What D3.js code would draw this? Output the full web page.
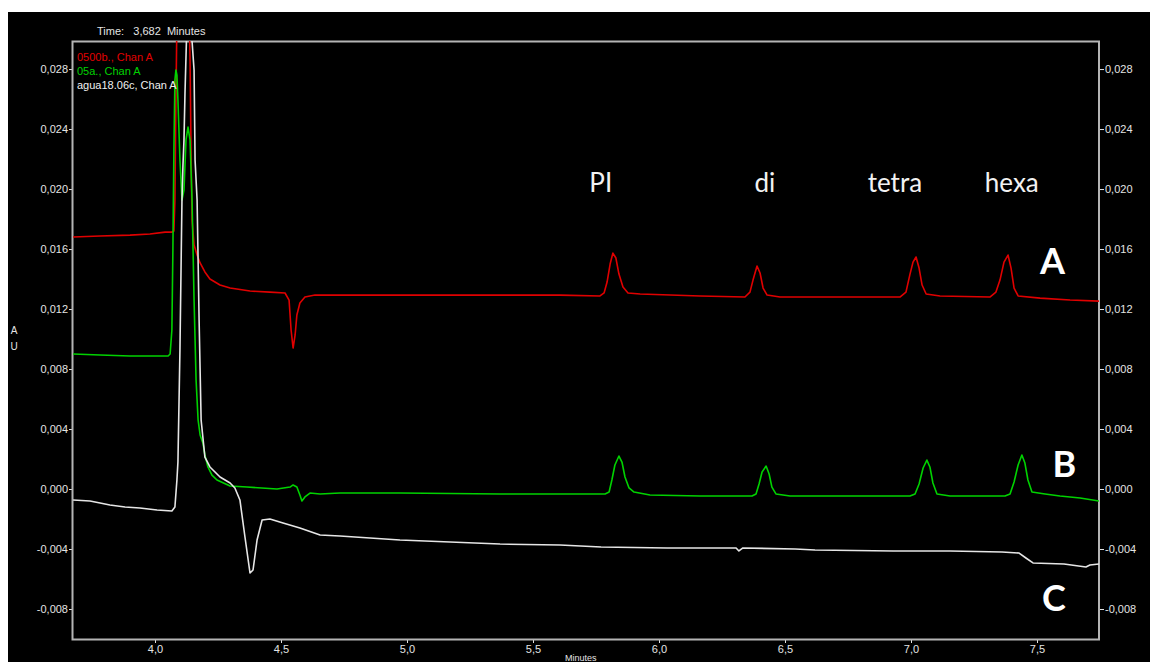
<!DOCTYPE html>
<html>
<head>
<meta charset="utf-8">
<script src="https://cdn.jsdelivr.net/npm/d3@7/dist/d3.min.js"></script>
<style>
  html, body { margin: 0; padding: 0; background: #ffffff; }
  svg { display: block; }
</style>
</head>
<body>
<svg id="chart" width="1150" height="662"></svg>
<script>
// Chromatogram traces (time in minutes, absorbance in AU)
const seriesNames = ["0500b., Chan A", "05a., Chan A", "agua18.06c, Chan A"];
const seriesColors = ["#e00000", "#00d200", "#e6e6e6"];

const timeA = [3.675, 3.782, 3.901, 3.980, 4.040, 4.067, 4.075, 4.079, 4.083, 4.087, 4.095, 4.111, 4.127, 4.135, 4.139, 4.143, 4.147, 4.155, 4.167, 4.179, 4.198, 4.218, 4.258, 4.298, 4.377, 4.456, 4.516, 4.532, 4.540, 4.548, 4.556, 4.563, 4.575, 4.595, 4.635, 4.972, 5.369, 5.607, 5.766, 5.782, 5.794, 5.806, 5.817, 5.829, 5.841, 5.857, 5.877, 5.925, 6.163, 6.341, 6.361, 6.373, 6.389, 6.401, 6.413, 6.429, 6.480, 6.758, 6.956, 6.980, 6.996, 7.008, 7.020, 7.032, 7.044, 7.060, 7.115, 7.313, 7.337, 7.353, 7.369, 7.385, 7.397, 7.409, 7.425, 7.512, 7.631, 7.746];
const valueA = [0.01680, 0.01687, 0.01693, 0.01700, 0.01713, 0.01713, 0.01720, 0.01927, 0.02593, 0.03127, 0.03460, 0.03660, 0.03527, 0.03260, 0.02860, 0.02260, 0.01793, 0.01627, 0.01560, 0.01507, 0.01447, 0.01400, 0.01360, 0.01340, 0.01320, 0.01313, 0.01307, 0.01260, 0.01060, 0.00940, 0.01027, 0.01160, 0.01240, 0.01280, 0.01293, 0.01293, 0.01293, 0.01293, 0.01287, 0.01307, 0.01380, 0.01500, 0.01573, 0.01540, 0.01433, 0.01347, 0.01307, 0.01300, 0.01287, 0.01280, 0.01313, 0.01393, 0.01487, 0.01440, 0.01340, 0.01293, 0.01280, 0.01280, 0.01280, 0.01313, 0.01433, 0.01513, 0.01547, 0.01473, 0.01360, 0.01300, 0.01287, 0.01280, 0.01313, 0.01393, 0.01513, 0.01560, 0.01473, 0.01340, 0.01287, 0.01273, 0.01260, 0.01253];

const timeB = [3.675, 3.782, 3.901, 4.020, 4.052, 4.060, 4.067, 4.071, 4.075, 4.079, 4.083, 4.087, 4.091, 4.099, 4.107, 4.115, 4.123, 4.131, 4.139, 4.147, 4.155, 4.163, 4.171, 4.179, 4.190, 4.198, 4.210, 4.226, 4.246, 4.298, 4.365, 4.484, 4.536, 4.548, 4.563, 4.575, 4.583, 4.595, 4.615, 4.655, 4.734, 4.972, 5.369, 5.607, 5.786, 5.802, 5.813, 5.825, 5.841, 5.853, 5.865, 5.881, 5.901, 5.964, 6.163, 6.369, 6.385, 6.397, 6.409, 6.425, 6.437, 6.448, 6.464, 6.520, 6.758, 6.996, 7.016, 7.032, 7.048, 7.063, 7.075, 7.087, 7.103, 7.155, 7.373, 7.393, 7.409, 7.425, 7.440, 7.452, 7.464, 7.480, 7.532, 7.591, 7.671, 7.746];
const valueB = [0.00900, 0.00893, 0.00887, 0.00887, 0.00887, 0.00900, 0.01060, 0.01593, 0.02260, 0.02727, 0.02793, 0.02760, 0.02593, 0.02193, 0.01927, 0.01993, 0.02327, 0.02413, 0.02327, 0.01927, 0.01260, 0.00727, 0.00460, 0.00360, 0.00307, 0.00227, 0.00147, 0.00093, 0.00060, 0.00020, 0.00013, 0.00000, 0.00013, 0.00027, 0.00013, -0.00040, -0.00080, -0.00053, -0.00027, -0.00033, -0.00027, -0.00027, -0.00033, -0.00033, -0.00033, -0.00020, 0.00060, 0.00160, 0.00220, 0.00180, 0.00080, 0.00007, -0.00020, -0.00040, -0.00047, -0.00047, -0.00033, 0.00033, 0.00113, 0.00153, 0.00100, 0.00013, -0.00033, -0.00047, -0.00047, -0.00047, -0.00033, 0.00033, 0.00140, 0.00193, 0.00147, 0.00040, -0.00033, -0.00047, -0.00047, -0.00033, 0.00047, 0.00160, 0.00227, 0.00173, 0.00060, -0.00020, -0.00033, -0.00047, -0.00060, -0.00080];

const timeC = [3.675, 3.742, 3.782, 3.821, 3.881, 3.940, 4.008, 4.067, 4.079, 4.087, 4.091, 4.099, 4.107, 4.111, 4.115, 4.119, 4.127, 4.135, 4.143, 4.147, 4.155, 4.159, 4.167, 4.175, 4.183, 4.198, 4.218, 4.258, 4.298, 4.317, 4.337, 4.357, 4.377, 4.389, 4.405, 4.425, 4.456, 4.508, 4.575, 4.655, 4.734, 4.972, 5.369, 5.607, 5.770, 6.032, 6.306, 6.317, 6.333, 6.540, 6.619, 6.929, 7.155, 7.361, 7.429, 7.456, 7.484, 7.607, 7.694, 7.710, 7.746];
const valueC = [-0.00073, -0.00080, -0.00093, -0.00107, -0.00120, -0.00127, -0.00140, -0.00147, -0.00120, 0.00060, 0.00180, 0.00927, 0.01927, 0.02160, 0.02327, 0.02640, 0.03127, 0.03393, 0.03260, 0.02987, 0.02793, 0.02193, 0.01927, 0.01127, 0.00460, 0.00213, 0.00147, 0.00080, 0.00040, 0.00007, -0.00073, -0.00320, -0.00560, -0.00540, -0.00340, -0.00207, -0.00200, -0.00227, -0.00260, -0.00307, -0.00313, -0.00340, -0.00367, -0.00373, -0.00387, -0.00393, -0.00393, -0.00413, -0.00393, -0.00400, -0.00407, -0.00413, -0.00413, -0.00420, -0.00427, -0.00460, -0.00493, -0.00500, -0.00520, -0.00507, -0.00500];

// Axis ticks
const xTicks = [4.0, 4.5, 5.0, 5.5, 6.0, 6.5, 7.0, 7.5];
const yTicks = [-0.008, -0.004, 0.000, 0.004, 0.008, 0.012, 0.016, 0.020, 0.024, 0.028];

// Peak names and trace letters
const peakNames = ["PI", "di", "tetra", "hexa"];
const peakNameTimes = [5.769, 6.420, 6.936, 7.400];
const peakNameLevel = 0.0205;
const traceLetters = ["A", "B", "C"];
const traceLetterTimes = [7.562, 7.609, 7.567];
const traceLetterLevels = [0.01527, 0.00173, -0.00720];

const cursorTime = "Time:   3,682  Minutes";

// ---------- drawing ----------
const svg = d3.select("#chart");
const W = 1150, H = 662;
const plot = { left: 73, right: 1099, top: 41, bottom: 639 };

const locale = d3.formatLocale({ decimal: ",", thousands: ".", grouping: [3], currency: ["", ""], minus: "-" });
const fmtY = locale.format(".3f");
const fmtX = locale.format(".1f");

const x = d3.scaleLinear().domain([3.6746, 7.746]).range([plot.left, plot.right]);
const y = d3.scaleLinear().domain([-0.0100, 0.02987]).range([plot.bottom, plot.top]);

svg.append("rect").attr("width", W).attr("height", H).attr("fill", "#ffffff");
svg.append("rect").attr("x", 8).attr("y", 12).attr("width", W - 8).attr("height", H - 12).attr("fill", "#000000");

const axisFont = "'Liberation Sans', Arial, sans-serif";
const textCol = "#e4e4e4";
const frameCol = "#b4b4b4";

svg.append("defs").append("clipPath").attr("id", "plotClip")
  .append("rect").attr("x", plot.left).attr("y", plot.top)
  .attr("width", plot.right - plot.left).attr("height", plot.bottom - plot.top);

// Left axis
const gL = svg.append("g").attr("transform", `translate(${plot.left},0)`)
  .call(d3.axisLeft(y).tickValues(yTicks).tickFormat(fmtY).tickSize(4).tickPadding(1));
// Right axis
const gR = svg.append("g").attr("transform", `translate(${plot.right},0)`)
  .call(d3.axisRight(y).tickValues(yTicks).tickFormat(fmtY).tickSize(5).tickPadding(1));
// Bottom axis
const gB = svg.append("g").attr("transform", `translate(0,${plot.bottom})`)
  .call(d3.axisBottom(x).tickValues(xTicks).tickFormat(fmtX).tickSize(4).tickPadding(2));

[gL, gR, gB].forEach(g => {
  g.select(".domain").remove();
  g.selectAll(".tick line").attr("stroke", textCol).attr("stroke-width", 1);
  g.selectAll(".tick text").attr("fill", textCol).attr("font-family", axisFont).attr("font-size", 11);
});

// Frame
svg.append("rect").attr("x", plot.left - 0.5).attr("y", plot.top + 0.5)
  .attr("width", plot.right - plot.left + 0.5).attr("height", plot.bottom - plot.top)
  .attr("fill", "none").attr("stroke", frameCol).attr("stroke-width", 2);

// Traces
const traces = [
  { t: timeA, v: valueA },
  { t: timeB, v: valueB },
  { t: timeC, v: valueC }
];
const line = d3.line().x(d => x(d[0])).y(d => y(d[1]));
const gLines = svg.append("g").attr("clip-path", "url(#plotClip)");
traces.forEach((tr, i) => {
  gLines.append("path")
    .datum(d3.zip(tr.t, tr.v))
    .attr("d", line)
    .attr("fill", "none")
    .attr("stroke", seriesColors[i])
    .attr("stroke-width", 1.6)
    .attr("stroke-linejoin", "round");
});

// Legend inside the plot
seriesNames.forEach((name, i) => {
  svg.append("text")
    .attr("x", plot.left + 4).attr("y", 61 + i * 14)
    .attr("fill", i === 2 ? "#f0f0f0" : seriesColors[i])
    .attr("font-family", axisFont).attr("font-size", 11)
    .text(name);
});

// Cursor readout
svg.append("text").attr("x", 97).attr("y", 35)
  .attr("fill", textCol).attr("font-family", axisFont).attr("font-size", 11)
  .attr("xml:space", "preserve").style("white-space", "pre")
  .text(cursorTime);

// Axis titles
svg.append("text").attr("x", 14).attr("y", 334).attr("text-anchor", "middle")
  .attr("fill", textCol).attr("font-family", axisFont).attr("font-size", 10).text("A");
svg.append("text").attr("x", 14).attr("y", 350).attr("text-anchor", "middle")
  .attr("fill", textCol).attr("font-family", axisFont).attr("font-size", 10).text("U");
svg.append("text").attr("x", 565).attr("y", 661)
  .attr("fill", textCol).attr("font-family", axisFont).attr("font-size", 9).text("Minutes");

// Peak names
const annFont = "Lato, 'Open Sans', sans-serif";
peakNames.forEach((n, i) => {
  svg.append("text")
    .attr("x", x(peakNameTimes[i])).attr("y", y(peakNameLevel))
    .attr("text-anchor", "middle").attr("dominant-baseline", "central")
    .attr("fill", "#f2f2f2").attr("font-family", annFont).attr("font-size", 26)
    .text(n);
});

// Trace letters
traceLetters.forEach((n, i) => {
  svg.append("text")
    .attr("x", x(traceLetterTimes[i])).attr("y", y(traceLetterLevels[i]))
    .attr("text-anchor", "middle").attr("dominant-baseline", "central")
    .attr("fill", "#ffffff").attr("font-family", annFont).attr("font-weight", "bold").attr("font-size", 36)
    .text(n);
});
</script>
</body>
</html>
